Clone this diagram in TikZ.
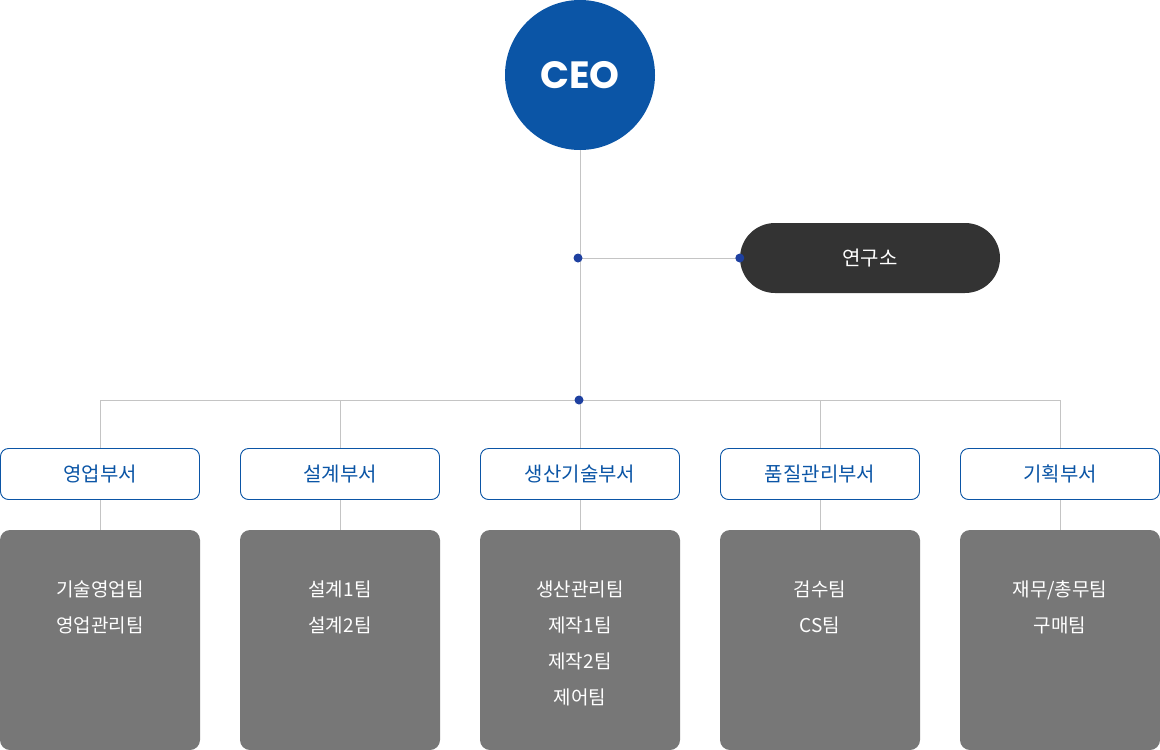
\documentclass[tikz,border=0pt]{standalone}
\usepackage{fontspec}
\setmainfont{Noto Sans CJK KR}
\newfontfamily\ceofont{Poppins}
\definecolor{ceoblue}{HTML}{0B55A6}
\definecolor{dotblue}{HTML}{1E40A0}
\definecolor{pill}{HTML}{333333}
\definecolor{teamgray}{HTML}{777777}
\definecolor{linegray}{HTML}{C4C4C4}
\tikzset{
  conn/.style={draw=linegray, line width=0.9pt},
  deptbox/.style={draw=ceoblue, line width=0.9pt, fill=white, rounded corners=8pt, minimum width=199pt, minimum height=51pt, text=ceoblue, font=\fontsize{20}{24}\selectfont, inner sep=0pt},
  teambox/.style={fill=teamgray, rounded corners=10pt, minimum width=200pt, minimum height=220pt, inner sep=0pt},
  teamtext/.style={text=white, font=\fontsize{19}{36}\selectfont, align=center, anchor=north},
  jdot/.style={circle, fill=dotblue, minimum size=9pt, inner sep=0pt},
}
\begin{document}
\begin{tikzpicture}[x=1pt,y=-1pt]
\useasboundingbox (0,0) rectangle (1160,750);
% CEO
\node[circle, fill=ceoblue, minimum size=150pt, inner sep=0pt, text=white, font=\ceofont\bfseries\fontsize{38}{44}\selectfont] (ceo) at (580,75) {CEO};
% research
\node[fill=pill, rounded corners=35pt, minimum width=260pt, minimum height=70pt, inner sep=0pt, text=white, font=\fontsize{20}{24}\selectfont] (lab) at (870,258) {연구소};
\coordinate (j1) at (580,258);
\coordinate (j2) at (580,400);
% departments
\foreach \i/\x/\t in {1/100/영업부서, 2/340/설계부서, 3/580/생산기술부서, 4/820/품질관리부서, 5/1060/기획부서}{
  \node[deptbox] (d\i) at (\x,474) {\t};
  \node[teambox] (t\i) at (\x,640) {};
  \coordinate (b\i) at (\x,400);
}
\draw[conn] (ceo.south) -- (j2);
\draw[conn] (j1) -- (lab.west);
\draw[conn] (b1) -- (b5);
\foreach \i in {1,...,5}{
  \draw[conn] (b\i) -- (d\i.north);
  \draw[conn] (d\i.south) -- (t\i.north);
}
\node[jdot] at ([xshift=-2pt]j1) {};
\node[jdot] at (lab.west) {};
\node[jdot] at ([xshift=-1pt]j2) {};
% team texts
\node[teamtext] at (100,577) {기술영업팀\\영업관리팀};
\node[teamtext] at (340,577) {설계1팀\\설계2팀};
\node[teamtext] at (580,577) {생산관리팀\\제작1팀\\제작2팀\\제어팀};
\node[teamtext] at (820,577) {검수팀\\CS팀};
\node[teamtext] at (1060,577) {재무/총무팀\\구매팀};
\end{tikzpicture}
\end{document}
